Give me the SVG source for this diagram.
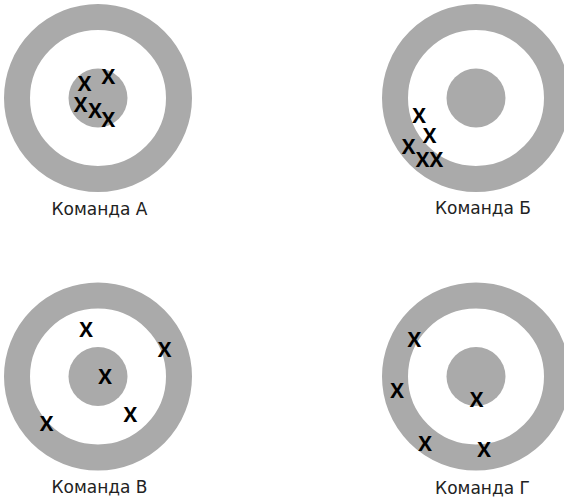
<svg xmlns="http://www.w3.org/2000/svg" width="564" height="500" viewBox="0 0 564 500">
<style>
.ring{fill:none;stroke:#aaaaaa;stroke-width:26}
.bull{fill:#aaaaaa}
.x{font-family:"Open Sans","Liberation Sans",Arial,sans-serif;font-weight:bold;font-size:20.5px;fill:#000;text-anchor:middle}
.lbl{font-family:"DejaVu Sans",Verdana,sans-serif;font-size:17px;fill:#222;text-anchor:middle}
</style>
<rect width="564" height="500" fill="#fff"/>
<g id="team-a">
<circle class="ring" cx="98" cy="98" r="81"/>
<circle class="bull" cx="98" cy="98" r="29.5"/>
<text class="x" x="84.5" y="90.6">X</text>
<text class="x" x="108.3" y="84.1">X</text>
<text class="x" x="80.7" y="111.5">X</text>
<text class="x" x="95" y="118.1">X</text>
<text class="x" x="108.3" y="126.5">X</text>
<text class="lbl" x="99.5" y="215">Команда А</text>
</g>
<g id="team-b">
<circle class="ring" cx="476" cy="98" r="81"/>
<circle class="bull" cx="476" cy="98" r="29.5"/>
<text class="x" x="419.2" y="123.1">X</text>
<text class="x" x="429.7" y="142.8">X</text>
<text class="x" x="408.7" y="154">X</text>
<text class="x" x="422.7" y="166.5">X</text>
<text class="x" x="436.3" y="166.5">X</text>
<text class="lbl" x="483" y="214">Команда Б</text>
</g>
<g id="team-v">
<circle class="ring" cx="98" cy="376.5" r="81"/>
<circle class="bull" cx="98" cy="376.5" r="29.5"/>
<text class="x" x="86" y="337">X</text>
<text class="x" x="164.7" y="356.5">X</text>
<text class="x" x="105" y="383.6">X</text>
<text class="x" x="130.3" y="421.5">X</text>
<text class="x" x="46.7" y="430.5">X</text>
<text class="lbl" x="99.5" y="493">Команда В</text>
</g>
<g id="team-g">
<circle class="ring" cx="476" cy="376.5" r="81"/>
<circle class="bull" cx="476" cy="376.5" r="29.5"/>
<text class="x" x="414.3" y="346.6">X</text>
<text class="x" x="397" y="398.1">X</text>
<text class="x" x="476.7" y="406.5">X</text>
<text class="x" x="425" y="450.5">X</text>
<text class="x" x="484" y="457.3">X</text>
<text class="lbl" x="482.5" y="494">Команда Г</text>
</g>
<g id="connectors"/>
</svg>
